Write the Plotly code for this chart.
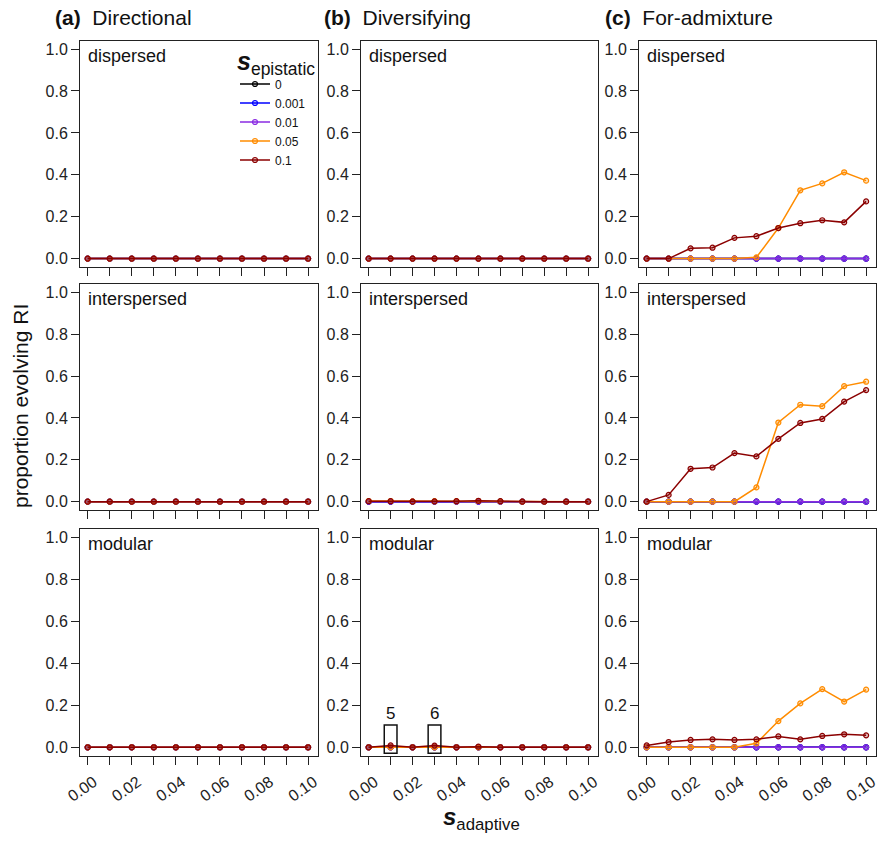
import plotly.graph_objects as go
from plotly.subplots import make_subplots

# ---------------- data ----------------
s_adaptive = [0.00, 0.01, 0.02, 0.03, 0.04, 0.05, 0.06, 0.07, 0.08, 0.09, 0.10]
s_epistatic = ["0", "0.001", "0.01", "0.05", "0.1"]
colors = ["#000000", "#0000FF", "#8A2BE2", "#FF8C00", "#8B0000"]

selection_types = ["Directional", "Diversifying", "For-admixture"]
panel_letters = ["(a)", "(b)", "(c)"]
architectures = ["dispersed", "interspersed", "modular"]

zeros = [0, 0, 0, 0, 0, 0, 0, 0, 0, 0, 0]

# per panel: list of series for s_epistatic = 0, 0.001, 0.01, 0.05, 0.1
dir_dispersed = [zeros, zeros, zeros, zeros, zeros]
dir_interspersed = [zeros, zeros, zeros, zeros, zeros]
dir_modular = [zeros, zeros, zeros, zeros, zeros]

div_dispersed = [zeros, zeros, zeros, zeros, zeros]
div_interspersed_005 = [0.003, 0.003, 0.001, 0.002, 0.002, 0.003, 0.001, 0, 0, 0, 0]
div_interspersed_01 = [0.002, 0.002, 0, 0.001, 0.002, 0.004, 0.002, 0, 0, 0, 0]
div_interspersed = [zeros, zeros, zeros, div_interspersed_005, div_interspersed_01]
div_modular_01 = [0, 0.009, 0, 0.008, 0, 0.003, 0, 0, 0, 0, 0]
div_modular = [zeros, zeros, zeros, zeros, div_modular_01]

adm_dispersed_005 = [0, 0, 0, 0, 0, 0.006, 0.146, 0.326, 0.359, 0.412, 0.372]
adm_dispersed_01 = [0, 0, 0.049, 0.052, 0.099, 0.107, 0.146, 0.169, 0.183, 0.173, 0.273]
adm_dispersed = [zeros, zeros, zeros, adm_dispersed_005, adm_dispersed_01]
adm_interspersed_005 = [0, 0, 0, 0, 0, 0.068, 0.378, 0.463, 0.456, 0.552, 0.573]
adm_interspersed_01 = [0, 0.032, 0.157, 0.163, 0.232, 0.216, 0.300, 0.376, 0.395, 0.478, 0.533]
adm_interspersed = [zeros, zeros, zeros, adm_interspersed_005, adm_interspersed_01]
adm_modular_005 = [0, 0, 0, 0, 0, 0.019, 0.125, 0.209, 0.277, 0.218, 0.275]
adm_modular_01 = [0.009, 0.025, 0.035, 0.038, 0.035, 0.038, 0.052, 0.038, 0.054, 0.062, 0.057]
adm_modular = [zeros, zeros, zeros, adm_modular_005, adm_modular_01]

panel_values = [
    [dir_dispersed, div_dispersed, adm_dispersed],
    [dir_interspersed, div_interspersed, adm_interspersed],
    [dir_modular, div_modular, adm_modular],
]

x_tickvals = [0.00, 0.01, 0.02, 0.03, 0.04, 0.05, 0.06, 0.07, 0.08, 0.09, 0.10]
x_ticktext = ["0.00", "", "0.02", "", "0.04", "", "0.06", "", "0.08", "", "0.10"]
y_tickvals = [0.0, 0.2, 0.4, 0.6, 0.8, 1.0]
y_ticktext = ["0.0", "0.2", "0.4", "0.6", "0.8", "1.0"]

boxed_x = [0.01, 0.03]
boxed_labels = ["5", "6"]

# ---------------- figure ----------------
W, H = 885, 845
FONT = "Liberation Sans, Arial, Helvetica, sans-serif"
fig = make_subplots(rows=3, cols=3)

col_px = [(80, 318), (361, 598), (639, 876)]
row_px = [(40.7, 267), (284, 510), (529, 755.7)]


def rgba(hexc, a):
    h = hexc.lstrip("#")
    return "rgba(%d,%d,%d,%.2f)" % (int(h[0:2], 16), int(h[2:4], 16), int(h[4:6], 16), a)


for r in range(3):
    for c in range(3):
        series = panel_values[r][c]
        for k, lab in enumerate(s_epistatic):
            fig.add_trace(
                go.Scatter(
                    x=s_adaptive, y=series[k], mode="lines+markers",
                    name=lab, showlegend=(r == 0 and c == 0),
                    line=dict(color=colors[k], width=1.5),
                    marker=dict(symbol="circle", size=5, color=rgba(colors[k], 0.25),
                                line=dict(color=colors[k], width=1.2)),
                ),
                row=r + 1, col=c + 1,
            )

for r in range(3):
    for c in range(3):
        idx = r * 3 + c + 1
        xa = "xaxis" if idx == 1 else "xaxis%d" % idx
        ya = "yaxis" if idx == 1 else "yaxis%d" % idx
        x0, x1 = col_px[c]
        y0, y1 = row_px[r]
        fig.layout[xa].update(
            domain=[x0 / W, x1 / W], range=[-0.0035, 0.1045], automargin=False,
            tickvals=x_tickvals, ticktext=x_ticktext, showticklabels=(r == 2),
            tickangle=-35, ticklabelshift=6, ticklabelstandoff=2,
            ticks="outside", ticklen=8, tickwidth=1, tickcolor="#222",
            showline=True, linecolor="#222", linewidth=1, mirror=True,
            showgrid=False, zeroline=False,
            tickfont=dict(family=FONT, size=16, color="#222"),
        )
        fig.layout[ya].update(
            domain=[1 - y1 / H, 1 - y0 / H], range=[-0.04, 1.04], automargin=False,
            tickvals=y_tickvals, ticktext=y_ticktext,
            ticks="outside", ticklen=8, tickwidth=1, tickcolor="#222",
            showline=True, linecolor="#222", linewidth=1, mirror=True,
            showgrid=False, zeroline=False,
            tickfont=dict(family=FONT, size=16, color="#222"),
        )
        xr = "x" if idx == 1 else "x%d" % idx
        yr = "y" if idx == 1 else "y%d" % idx
        fig.add_annotation(
            text=architectures[r], xref=xr + " domain", yref=yr + " domain",
            x=0.025, y=0.985, xanchor="left", yanchor="top", showarrow=False,
            font=dict(family=FONT, size=18, color="#111"),
        )

# column titles
title_x = [53, 322, 603]
for c in range(3):
    fig.add_annotation(
        text="<b>%s</b>\u00a0 %s" % (panel_letters[c], selection_types[c]),
        xref="paper", yref="paper", x=title_x[c] / W, y=1 - 17 / H,
        xanchor="left", yanchor="middle", showarrow=False,
        font=dict(family=FONT, size=21, color="#111"),
    )

# boxed points in (b) modular
for bx, bl in zip(boxed_x, boxed_labels):
    fig.add_shape(type="rect", xref="x8", yref="y8",
                  x0=bx - 0.0029, x1=bx + 0.0029, y0=-0.028, y1=0.106,
                  line=dict(color="#111", width=1.5))
    fig.add_annotation(text=bl, xref="x8", yref="y8", x=bx, y=0.106,
                       yanchor="bottom", showarrow=False,
                       font=dict(family=FONT, size=17, color="#111"))

# axis titles
fig.add_annotation(
    text="proportion evolving RI", xref="paper", yref="paper",
    x=20 / W, y=1 - 406 / H, textangle=-90, showarrow=False,
    xanchor="center", yanchor="middle",
    font=dict(family=FONT, size=21, color="#111"),
)
fig.add_annotation(
    text="<b><i>s</i></b><sub>adaptive</sub>", xref="paper", yref="paper",
    x=481 / W, y=1 - 818 / H, showarrow=False, xanchor="center", yanchor="middle",
    font=dict(family=FONT, size=24, color="#111"),
)

fig.update_layout(
    width=W, height=H, margin=dict(l=0, r=0, t=0, b=0, autoexpand=False),
    paper_bgcolor="white", plot_bgcolor="white",
    showlegend=True,
    legend=dict(
        x=235 / W, y=1 - 37 / H, xanchor="left", yanchor="top",
        bgcolor="rgba(0,0,0,0)", itemwidth=30,
        font=dict(family=FONT, size=12, color="#111"),
        title=dict(text="<b><i>s</i></b><sub>epistatic</sub>",
                   font=dict(family=FONT, size=25, color="#111"), side="top"),
        tracegroupgap=0,
    ),
)

fig.write_html("out.html")
